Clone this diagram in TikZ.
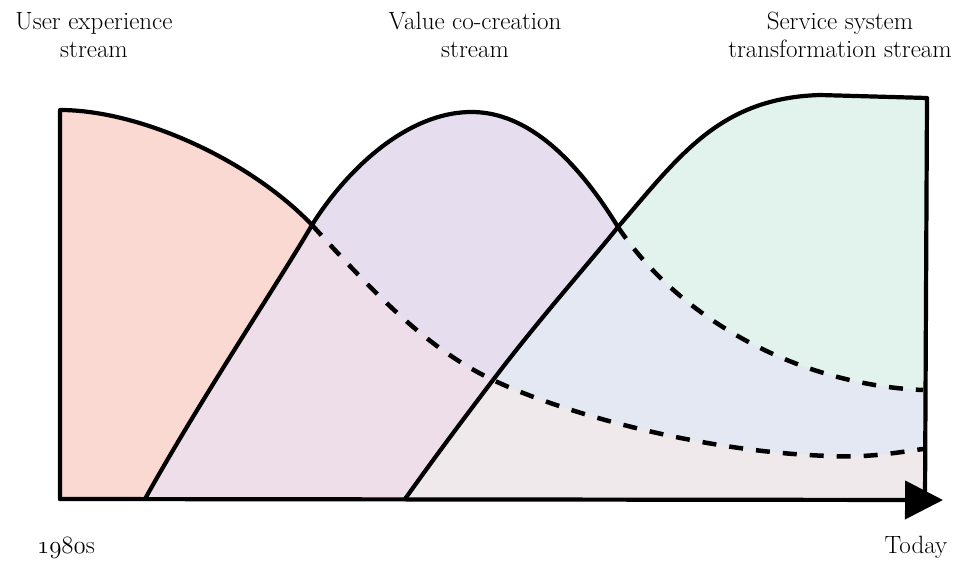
\documentclass[tikz,border=0pt]{standalone}
\usetikzlibrary{arrows.meta}
\definecolor{cred}{HTML}{FAD9D2}
\definecolor{cpurple}{HTML}{E6DEEE}
\definecolor{cmix}{HTML}{EEDEEA}
\definecolor{cgreen}{HTML}{E2F2ED}
\definecolor{cblue}{HTML}{E4E8F2}
\definecolor{cgrey}{HTML}{F0E9EB}
\newcommand\oldfig{\fontencoding{OML}\fontfamily{lmm}\fontseries{m}\fontshape{it}\selectfont}
\begin{document}
\begin{tikzpicture}[x=1pt,y=-1pt,
  outline/.style={line width=4.2pt, line cap=round, line join=round},
  dashline/.style={line width=4.5pt, dash pattern=on 14pt off 13pt},
  txt/.style={font=\fontsize{25}{28}\selectfont, align=center, inner sep=0pt}]
\useasboundingbox (0,0) rectangle (961,560);
% key points
\coordinate (rBL) at (60,499);
\coordinate (rTL) at (60,110);
\coordinate (X1) at (312,225);
\coordinate (X2) at (493,380);
\coordinate (rM) at (830,456);
\coordinate (rE) at (923,449);
\coordinate (pB) at (145,499);
\coordinate (pTop) at (470,112);
\coordinate (X3) at (618,227);
\coordinate (pE) at (923,390);
\coordinate (gB) at (405,499);
\coordinate (gT) at (820,95);
\coordinate (gTR) at (927,98);
\coordinate (gBR) at (925,499);
\coordinate (aS) at (60,499);
\coordinate (aE) at (943,500);
% shapes
\def\redshape{(rBL) -- (rTL) .. controls (140,110) and (250,160) .. (X1)
  .. controls (380,300) and (430,350) .. (X2)
  .. controls (560,412) and (700,452) .. (rM)
  .. controls (870,458) and (900,452) .. (rE) -- (gBR) -- cycle}
\def\purpleshape{(pB) .. controls (200,400) and (280,280) .. (X1)
  .. controls (345,172) and (405,113) .. (pTop)
  .. controls (530,111) and (580,165) .. (X3)
  .. controls (680,320) and (800,385) .. (pE) -- (gBR) -- cycle}
\def\greenshape{(gB) .. controls (440,450) and (465,417) .. (X2)
  .. controls (540,318) and (590,262) .. (X3)
  .. controls (680,155) and (720,98) .. (gT) -- (gTR) -- (gBR) -- cycle}
% fills
\fill[cred] \redshape;
\fill[cpurple] \purpleshape;
\begin{scope}
  \clip \redshape;
  \fill[cmix] \purpleshape;
\end{scope}
\fill[cgreen] \greenshape;
\begin{scope}
  \clip \greenshape;
  \fill[cblue] \purpleshape;
  \clip \redshape;
  \fill[cgrey] \greenshape;
\end{scope}
% dashed continuations
\draw[dashline] (X1) .. controls (380,300) and (430,350) .. (X2)
  .. controls (560,412) and (700,452) .. (rM)
  .. controls (870,458) and (900,452) .. (rE);
\draw[dashline] (X3) .. controls (680,320) and (800,385) .. (pE);
% solid outlines
\draw[outline] (rBL) -- (rTL) .. controls (140,110) and (250,160) .. (X1);
\draw[outline] (pB) .. controls (200,400) and (280,280) .. (X1)
  .. controls (345,172) and (405,113) .. (pTop)
  .. controls (530,111) and (580,165) .. (X3);
\draw[outline] (gB) .. controls (440,450) and (465,417) .. (X2)
  .. controls (540,318) and (590,262) .. (X3)
  .. controls (680,155) and (720,98) .. (gT) -- (gTR) -- (gBR);
\draw[outline, -{Triangle[length=38pt,width=38pt]}] (aS) -- (aE);
% labels
\node[txt, anchor=north] (t1) at (94,12) {User experience\\stream};
\node[txt, anchor=north] (t2) at (475,12) {Value co-creation\\stream};
\node[txt, anchor=north] (t3) at (840,12) {Service system\\transformation stream};
\node[txt, anchor=base] (t4) at (66,553) {{\oldfig 1980}s};
\node[txt, anchor=base] (t5) at (916,553) {Today};
\end{tikzpicture}
\end{document}
